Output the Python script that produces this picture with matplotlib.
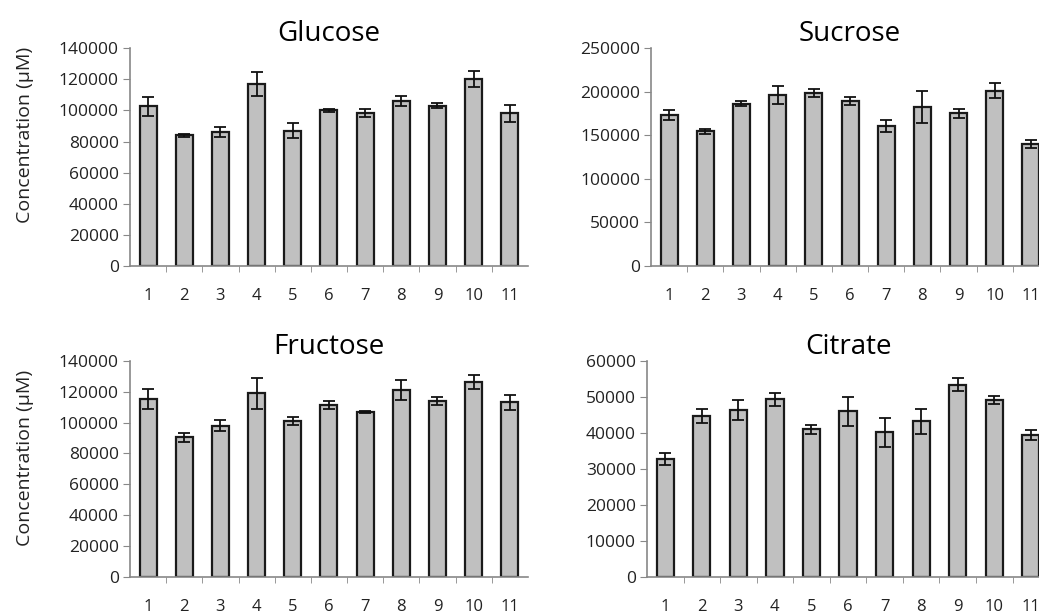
import numpy as np
import matplotlib
matplotlib.use("Agg")
import matplotlib.pyplot as plt
from matplotlib.ticker import FixedLocator, NullFormatter

plt.rcParams['font.family'] = ['Open Sans', 'DejaVu Sans']

samples = list(range(1, 12))

glucose = [102500, 84000, 86000, 117000, 87000, 100000, 98500, 106000, 103000, 120000, 98000]
glucose_err = [6000, 800, 3000, 7500, 5000, 1000, 2500, 3500, 1800, 5000, 5500]

sucrose = [173000, 154500, 186000, 196000, 198000, 189000, 161000, 182000, 175000, 201000, 140000]
sucrose_err = [5500, 3000, 3000, 10500, 4500, 4500, 7000, 18500, 5000, 8500, 5000]

fructose = [115000, 90500, 98000, 119000, 101000, 111500, 107000, 121000, 114000, 126500, 113000]
fructose_err = [6500, 3000, 3500, 10000, 2500, 2500, 800, 6500, 2500, 4500, 5000]

citrate = [32700, 44600, 46300, 49300, 41000, 46000, 40200, 43200, 53400, 49200, 39500]
citrate_err = [1700, 2000, 2800, 1800, 1300, 4000, 4000, 3400, 1800, 1100, 1400]

# title, values, errors, y max, y step, axes rect, y-label position (None = no label)
panels = [
    ("Glucose", glucose, glucose_err, 140000, 20000, [0.1251, 0.568, 0.383, 0.354], 0.60),
    ("Sucrose", sucrose, sucrose_err, 250000, 50000, [0.6266, 0.568, 0.383, 0.354], None),
    ("Fructose", fructose, fructose_err, 140000, 20000, [0.1251, 0.0633, 0.383, 0.351], 0.55),
    ("Citrate", citrate, citrate_err, 60000, 10000, [0.6227, 0.0633, 0.387, 0.351], None),
]

fig = plt.figure(figsize=(10.39, 6.16), dpi=100)

for title, vals, errs, ymax, step, pos, label_y in panels:
    ax = fig.add_axes(pos)
    ax.bar(samples, vals, width=0.47, color='#c0c0c0', edgecolor='#1a1a1a', linewidth=1.6)
    ax.errorbar(samples, vals, yerr=errs, fmt='none', ecolor='#111111',
                elinewidth=1.3, capsize=4.5, capthick=1.3)
    ax.set_xlim(0.5, 11.5)
    ax.set_ylim(0, ymax)
    ax.set_yticks(np.arange(0, ymax + 1, step))
    ax.set_xticks(samples)
    ax.set_xticklabels([str(s) for s in samples])
    ax.xaxis.set_minor_locator(FixedLocator(np.arange(1.5, 11.5, 1)))
    ax.xaxis.set_minor_formatter(NullFormatter())
    ax.tick_params(axis='x', which='major', length=0, pad=16, labelsize=12, labelcolor='#222222')
    ax.tick_params(axis='x', which='minor', length=4, color='#888888', direction='out')
    ax.tick_params(axis='y', length=5, color='#888888', labelsize=12.5, labelcolor='#222222', pad=3)
    for s in ['top', 'right']:
        ax.spines[s].set_visible(False)
    for s in ['left', 'bottom']:
        ax.spines[s].set_color('#888888')
        ax.spines[s].set_linewidth(1.2)
    ax.set_title(title, fontsize=20, pad=5)
    if label_y is not None:
        ax.set_ylabel("Concentration (µM)", fontsize=14, color='#222222')
        ax.yaxis.set_label_coords(-0.24, label_y)

fig.savefig("out.png", dpi=100)
